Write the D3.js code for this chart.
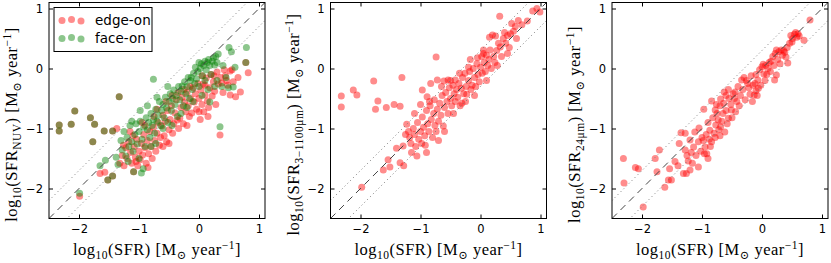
<!DOCTYPE html>
<html>
<head>
<meta charset="utf-8">
<script src="https://cdn.jsdelivr.net/npm/d3@7"></script>
<style>
  body { margin: 0; background: #fff; }
  svg { display: block; }
  .tick text { font-family: "DejaVu Sans", sans-serif; font-size: 11.5px; fill: #000; }
  .lab { font-family: "Liberation Serif", "DejaVu Serif", serif; font-size: 16.5px; letter-spacing: 0.5px; fill: #000; }
</style>
</head>
<body>
<div id="chart"></div>
<script>
// log10 SFR values, [x, y] per galaxy
const sfrNuvEdge = [
  [-2.33,-0.94],[-2.33,-1.04],[-2.13,-0.93],[-2.07,-0.71],[-1.81,-0.82],[-1.74,-0.93],[-1.77,-1.22],[-1.58,-1.04],[-1.44,-1.04],[-1.33,-0.47],
  [-1.99,-2.13],[-1.65,-1.75],[-1.57,-1.73],[-1.52,-1.86],[-1.44,-1.79],[-1.09,-1.72],[-1.37,-1.0],[-1.32,-1.58],[-1.28,-1.45],[-1.25,-1.62],
  [-1.22,-1.32],[-1.2,-1.5],[-1.17,-1.22],[-1.14,-1.4],[-1.12,-1.58],[-1.08,-1.3],[-1.06,-1.48],[-1.04,-1.18],[-1.02,-1.62],[-1.0,-1.38],
  [-0.98,-1.52],[-0.96,-1.25],[-0.94,-1.44],[-0.92,-1.1],[-0.9,-1.32],[-0.88,-1.58],[-0.86,-1.2],[-0.84,-1.42],[-0.82,-1.05],[-0.8,-1.3],
  [-0.78,-1.5],[-0.76,-0.98],[-0.74,-1.2],[-0.72,-1.38],[-0.7,-1.08],[-0.68,-0.9],[-0.66,-1.28],[-0.64,-1.15],[-0.62,-0.96],[-0.6,-0.78],
  [-0.58,-1.12],[-0.56,-0.88],[-0.54,-1.22],[-0.52,-0.7],[-0.5,-1.02],[-0.48,-0.85],[-0.46,-0.62],[-0.44,-1.08],[-0.42,-0.92],[-0.4,-0.74],
  [-0.38,-0.52],[-0.36,-0.86],[-0.34,-1.0],[-0.32,-0.83],[-0.3,-0.65],[-0.28,-0.48],[-0.26,-0.92],[-0.24,-0.56],[-0.22,-0.72],[-0.2,-0.4],
  [-0.18,-0.62],[-0.16,-0.8],[-0.14,-0.5],[-0.12,-0.74],[-0.1,-0.32],[-0.08,-0.56],[-0.06,-0.42],[-0.04,-0.68],[-0.02,-0.25],[0.0,-0.5],
  [0.02,-0.85],[0.03,-0.36],[0.05,-0.6],[0.07,-0.26],[0.08,-0.72],[0.1,-0.44],[0.12,-0.16],[0.14,-0.54],[0.16,-0.65],[0.18,-0.32],
  [0.2,-0.1],[0.22,-0.46],[0.24,-0.22],[0.26,-0.38],[0.28,-0.6],[0.3,-0.06],[0.32,-0.26],[0.35,-1.11],[0.36,-0.15],[0.4,-0.4],
  [0.44,-0.12],[0.48,-0.28],[0.52,-0.04],[0.52,-0.44],[0.57,-0.22],[0.61,-0.47],[0.69,-0.39],[0.82,-0.07],[0.78,0.10],[0.46,-0.2],
  [0.38,-0.24],[-0.7,-0.68],[-0.9,-0.95],[-1.1,-1.12],[-1.26,-1.28],[-0.55,-0.55],[-0.35,-0.4],[-0.15,-0.3],[0.05,-0.12],[-1.15,-1.05],
  [-0.95,-0.9],[-0.75,-0.8],[-0.45,-0.45],[-0.25,-0.35],[0.1,-0.28],[0.25,-0.12],[-0.6,-1.3],[-0.85,-1.65],[-1.05,-1.55],[-0.5,-1.25],
  [0.0,-0.72],[-0.2,-0.95],[0.15,-0.8],[0.65,-0.15],[0.55,-0.02],[0.42,-0.02]
];
const sfrNuvFace = [
  [-2.33,-0.94],[-2.33,-1.04],[-2.13,-0.93],[-2.07,-0.71],[-1.81,-0.82],[-1.74,-0.93],[-1.77,-1.22],[-1.58,-1.04],[-1.44,-1.04],[-1.33,-0.47],
  [-1.99,-2.08],[-1.65,-1.62],[-1.56,-1.53],[-1.52,-1.86],[-1.44,-1.79],[-1.09,-1.72],[-1.38,-1.48],[-1.3,-1.2],[-1.28,-1.36],[-1.25,-1.05],
  [-1.22,-1.46],[-1.2,-1.15],[-1.17,-1.3],[-1.15,-0.95],[-1.12,-1.22],[-1.1,-1.38],[-1.07,-1.1],[-1.05,-0.92],[-1.03,-1.26],[-1.0,-1.05],
  [-0.98,-0.88],[-0.96,-1.74],[-0.93,-1.67],[-0.95,-1.18],[-0.92,-0.98],[-0.9,-1.3],[-0.88,-0.82],[-0.86,-1.02],[-0.84,-0.9],[-0.82,-1.15],
  [-0.8,-0.75],[-0.78,-0.95],[-0.76,-0.18],[-0.76,-0.85],[-0.74,-1.08],[-0.72,-0.68],[-0.7,-0.88],[-0.68,-0.78],[-0.66,-0.55],[-0.64,-0.95],
  [-0.62,-0.7],[-0.6,-0.6],[-0.58,-0.82],[-0.56,-0.48],[-0.54,-0.66],[-0.52,-0.9],[-0.5,-0.55],[-0.48,-0.42],[-0.46,-0.7],[-0.44,-0.5],
  [-0.42,-0.36],[-0.4,-0.6],[-0.38,-0.45],[-0.36,-0.8],[-0.34,-0.3],[-0.32,-0.52],[-0.3,-0.38],[-0.28,-0.29],[-0.26,-0.62],[-0.24,-0.22],
  [-0.22,-0.42],[-0.2,-0.3],[-0.18,-0.15],[-0.16,-0.5],[-0.14,-0.2],[-0.13,-0.15],[-0.11,-0.35],[-0.09,-0.08],[-0.07,-0.25],[-0.04,-0.17],
  [-0.02,-0.05],[0.0,-0.3],[0.02,0.0],[0.04,0.08],[0.06,-0.12],[0.08,0.05],[0.1,0.12],[0.12,-0.02],[0.14,0.1],[0.16,0.15],
  [0.18,0.05],[0.2,-0.1],[0.18,-0.56],[0.22,0.12],[0.24,0.18],[0.26,0.06],[0.28,0.2],[0.3,0.1],[0.32,0.24],[0.35,-0.97],
  [0.38,-0.3],[0.4,0.05],[0.49,-0.32],[0.5,0.35],[0.54,0.28],[0.57,-0.31],[0.6,0.02],[0.79,0.35],[0.78,0.10],[0.45,-0.15],
  [0.3,-0.2],[-0.6,-1.0],[-0.8,-1.3],[-1.0,-1.5],[-0.45,-0.95],[-1.35,-1.6],[-1.18,-1.55],[-0.72,-1.25],[-0.3,-0.75],[-0.1,-0.55],
  [0.15,-0.35],[0.05,-0.45],[-0.2,-0.65],[-1.12,-0.88],[-0.98,-0.7],[-0.86,-0.62],[-0.7,-0.48],[-0.52,-0.3],[0.0,0.1],[-0.06,0.02],
  [0.26,-0.3],[0.1,-0.2]
];
const sfrTirEdge = [
  [-2.32,-0.46],[-2.32,-0.64],[-2.12,-0.36],[-2.06,-0.44],[-1.78,-0.21],[-1.71,-0.54],[-1.75,-0.68],[-1.57,-0.65],[-1.44,-0.6],[-1.34,-0.63],
  [-1.31,-0.15],[-0.74,0.19],[-0.17,0.15],[-1.98,-1.98],[-1.62,-1.69],[-1.51,-1.64],[-1.54,-1.52],[-1.34,-1.57],[-1.28,-1.62],[-1.4,-1.33],
  [-1.29,-1.29],[-1.06,-1.46],[-1.23,-0.93],[-1.2,-1.05],[-1.18,-1.15],[-1.16,-1.25],[-1.12,-1.0],[-1.1,-1.1],[-1.08,-1.3],[-1.05,-0.9],
  [-1.03,-1.18],[-1.0,-1.05],[-0.98,-1.25],[-0.97,-0.81],[-0.97,-0.36],[-0.95,-0.98],[-0.93,-1.12],[-0.92,-1.28],[-0.9,-0.7],[-0.89,-0.47],
  [-0.88,-0.92],[-0.86,-1.05],[-0.84,-0.62],[-0.83,-0.25],[-0.82,-0.85],[-0.8,-1.15],[-0.78,-0.75],[-0.77,-0.52],[-0.76,-0.95],[-0.74,-1.05],
  [-0.72,-0.19],[-0.72,-0.68],[-0.7,-0.88],[-0.68,-0.58],[-0.66,-0.78],[-0.64,-0.45],[-0.62,-0.96],[-0.61,-0.21],[-0.6,-0.65],[-0.58,-0.4],
  [-0.56,-0.55],[-0.54,-0.19],[-0.54,-0.75],[-0.52,-0.32],[-0.5,-0.5],[-0.48,-0.62],[-0.46,-0.28],[-0.44,-0.42],[-0.42,-0.19],[-0.42,-0.55],
  [-0.4,-0.35],[-0.38,-0.48],[-0.36,-0.25],[-0.34,-0.62],[-0.32,-0.33],[-0.31,-0.58],[-0.3,-0.15],[-0.28,-0.42],[-0.26,-0.08],[-0.24,-0.3],
  [-0.23,-0.43],[-0.2,-0.2],[-0.18,-0.05],[-0.16,-0.35],[-0.14,-0.28],[-0.12,0.0],[-0.1,-0.15],[-0.08,-0.3],[-0.06,0.08],[-0.04,-0.1],
  [-0.02,-0.22],[0.0,0.02],[0.02,0.2],[0.03,-0.08],[0.05,0.31],[0.06,0.1],[0.08,-0.05],[0.1,0.22],[0.12,0.05],[0.14,0.15],
  [0.16,0.31],[0.18,0.0],[0.2,0.56],[0.22,0.2],[0.24,0.1],[0.25,0.54],[0.27,0.3],[0.3,0.42],[0.32,0.87],[0.33,0.36],
  [0.35,0.2],[0.38,0.5],[0.4,0.6],[0.42,0.42],[0.45,0.55],[0.48,0.35],[0.5,0.58],[0.52,0.75],[0.55,0.62],[0.58,0.7],
  [0.6,0.5],[0.63,0.8],[0.69,0.73],[0.78,0.79],[0.87,0.96],[0.94,1.0],[0.99,0.94],[0.15,0.52],[0.05,0.25],[-0.05,0.18],
  [-0.2,0.02],[-0.35,-0.08],[-0.5,-0.2],[-0.65,-0.3],[-0.85,-0.55],[-1.0,-0.6],[-1.1,-0.75],[-0.6,-1.05],[-0.45,-0.75],[-0.25,-0.55],
  [-0.1,-0.45],[0.1,-0.2],[0.28,0.05],[0.45,0.25],[-1.25,-1.1],[-1.15,-1.4],[-0.9,-1.4],[-0.7,-1.2]
];
const sfr24Edge = [
  [-2.31,-1.5],[-2.3,-1.91],[-2.11,-1.65],[-2.06,-1.67],[-1.98,-2.31],[-1.78,-1.5],[-1.75,-1.72],[-1.71,-1.36],[-1.62,-1.98],[-1.56,-1.86],
  [-1.51,-1.86],[-1.54,-1.67],[-1.35,-1.07],[-1.28,-1.08],[-1.31,-1.75],[-1.26,-1.75],[-1.2,-1.69],[-1.23,-1.54],[-1.06,-1.64],[-1.05,-0.99],
  [-0.97,-0.68],[-0.84,-0.54],[-0.69,-0.51],[-0.78,-0.69],[-0.63,-0.39],[-0.56,-0.35],[-0.45,-0.39],[-0.46,-0.5],[-0.34,-0.19],[-0.3,-0.15],
  [-0.24,-0.25],[-0.2,-0.43],[-0.12,-0.25],[-0.07,-0.19],[-0.06,-0.33],[-0.1,-0.37],[-0.13,-0.44],[0.02,0.07],[0.03,-0.09],[0.1,0.0],
  [0.15,0.12],[0.24,0.31],[0.32,0.31],[0.38,0.27],[0.4,0.19],[0.43,0.09],[0.51,0.5],[0.54,0.57],[0.6,0.58],[0.62,0.54],
  [0.5,0.44],[0.7,0.47],[0.8,0.81],[0.21,-0.19],[0.24,-0.11],[-1.12,-1.06],[-1.2,-1.19],[-1.14,-1.31],[-1.06,-1.22],[-1.0,-1.15],
  [-0.95,-1.31],[-0.92,-1.42],[-0.9,-1.5],[-0.87,-1.03],[-0.8,-1.08],[-0.77,-0.94],[-0.73,-0.86],[-0.69,-0.97],[-0.65,-0.75],[-0.62,-1.06],
  [-0.56,-0.83],[-0.51,-0.69],[-0.44,-0.72],[-0.84,-1.22],[-1.28,-1.36],[-1.25,-1.45],[-1.18,-1.4],[-1.1,-1.45],[-1.02,-1.38],[-0.98,-1.2],
  [-0.93,-1.1],[-0.9,-0.9],[-0.86,-1.3],[-0.82,-0.82],[-0.78,-1.15],[-0.75,-0.75],[-0.72,-1.02],[-0.7,-0.62],[-0.67,-0.88],[-0.64,-0.58],
  [-0.6,-0.7],[-0.58,-0.92],[-0.55,-0.5],[-0.52,-0.6],[-0.5,-0.82],[-0.48,-0.42],[-0.42,-0.55],[-0.4,-0.3],[-0.38,-0.62],[-0.36,-0.45],
  [-0.32,-0.35],[-0.28,-0.52],[-0.26,-0.2],[-0.22,-0.32],[-0.18,-0.12],[-0.16,-0.55],[-0.15,-0.28],[-0.1,-0.1],[-0.08,-0.45],[-0.04,-0.02],
  [-0.02,-0.28],[0.0,0.03],[0.05,-0.2],[0.06,0.05],[0.08,-0.1],[0.12,0.1],[0.14,-0.05],[0.18,0.2],[0.2,0.05],[0.22,0.25],
  [0.26,0.15],[0.28,0.28],[0.3,0.08],[0.34,0.22],[0.36,0.3],[0.42,0.35],[0.46,0.42],[0.56,0.6],[0.58,0.52],[0.48,0.55],
  [-1.38,-1.25],[-1.45,-1.55],[-1.4,-1.62],[-1.16,-1.58],[-0.96,-1.42],[-0.88,-1.18],[-0.76,-0.6],[-0.6,-0.45],[-0.7,-1.12]
];

const axisDomain = [-2.5, 1.1];
const tickValues = [-2, -1, 0, 1];
const lineOffsets = [0, 0.3, -0.3];   // 1:1 line and +/-0.3 dex
const seriesNames = ['edge-on', 'face-on'];
const seriesColors = ['#ff0000', '#008000'];
const yLabelSubs = ['NUV', '3\u22121100\u03bcm', '24\u03bcm'];

const width = 831;
const height = 263;
const size = 216;
const marginTop = 2.5;
const lefts = [49, 330.5, 612];

const svg = d3.select('#chart').append('svg')
  .attr('width', width)
  .attr('height', height);

const x = d3.scaleLinear().domain(axisDomain).range([0, size]);
const y = d3.scaleLinear().domain(axisDomain).range([size, 0]);
const fmt = d => d3.format('')(d).replace('-', '\u2212');

const panels = [
  { sets: [[sfrNuvEdge, 0], [sfrNuvFace, 1]], legend: true },
  { sets: [[sfrTirEdge, 0]] },
  { sets: [[sfr24Edge, 0]] }
];

// label with sub/superscripts: parts = [text, shift] (shift: 0 normal, 1 sub, -1 sup)
function mathLabel(sel, parts) {
  let prev = 0;
  parts.forEach(([t, s]) => {
    const dy = (s - prev) * (s === -1 || prev === -1 ? 6 : 4);
    sel.append('tspan')
      .attr('dy', dy)
      .attr('font-size', s === 0 ? null : '11.5px')
      .text(t);
    prev = s;
  });
}

panels.forEach((p, i) => {
  const g = svg.append('g').attr('transform', `translate(${lefts[i]},${marginTop})`);
  const clipId = 'clip' + i;
  g.append('clipPath').attr('id', clipId)
    .append('rect').attr('width', size).attr('height', size);

  const plot = g.append('g').attr('clip-path', `url(#${clipId})`);

  // points
  p.sets.forEach(([pts, s]) => {
    plot.selectAll('.pt' + s)
      .data(pts)
      .enter().append('circle')
      .attr('class', 'pt' + s)
      .attr('cx', d => x(d[0]))
      .attr('cy', d => y(d[1]))
      .attr('r', 3.5)
      .style('fill', seriesColors[s])
      .style('fill-opacity', 0.45);
  });

  // reference lines
  lineOffsets.forEach(off => {
    plot.append('line')
      .attr('x1', x(axisDomain[0])).attr('y1', y(axisDomain[0] + off))
      .attr('x2', x(axisDomain[1])).attr('y2', y(axisDomain[1] + off))
      .style('stroke', off === 0 ? '#444' : '#777')
      .style('stroke-width', 1)
      .style('stroke-dasharray', off === 0 ? '7,5' : '1,3');
  });

  // axes with inward ticks
  g.append('g').attr('transform', `translate(0,${size})`)
    .call(d3.axisBottom(x).tickValues(tickValues).tickSize(-4).tickPadding(6).tickFormat(fmt));
  g.append('g')
    .call(d3.axisLeft(y).tickValues(tickValues).tickSize(-4).tickPadding(6).tickFormat(fmt));
  g.append('g')
    .call(d3.axisTop(x).tickValues(tickValues).tickSize(-4).tickFormat(''));
  g.append('g').attr('transform', `translate(${size},0)`)
    .call(d3.axisRight(y).tickValues(tickValues).tickSize(-4).tickFormat(''));
  g.selectAll('.domain').remove();
  g.append('rect').attr('width', size).attr('height', size)
    .style('fill', 'none').style('stroke', '#000').style('stroke-width', 1);

  // x label
  const xl = g.append('text').attr('class', 'lab')
    .attr('x', size / 2).attr('y', 252.5).attr('text-anchor', 'middle');
  mathLabel(xl, [['log', 0], ['10', 1], ['(SFR)  [M', 0], ['\u2299', 1], [' year', 0], ['\u22121', -1], [']', 0]]);

  // y label
  const yl = g.append('text').attr('class', 'lab')
    .attr('transform', `translate(-32,${size / 2 + 14}) rotate(-90)`)
    .attr('text-anchor', 'middle');
  mathLabel(yl, [['log', 0], ['10', 1], ['(SFR', 0], [yLabelSubs[i], 1], [')  [M', 0], ['\u2299', 1], [' year', 0], ['\u22121', -1], [']', 0]]);

  // legend
  if (p.legend) {
    const lg = g.append('g').attr('transform', 'translate(5,5)');
    lg.append('rect').attr('width', 98).attr('height', 44)
      .style('fill', '#fff').style('stroke', '#000').style('stroke-width', 1);
    const jitter = [0.5, -0.6, 1];
    seriesNames.forEach((name, k) => {
      const row = lg.append('g').attr('transform', `translate(0,${12.5 + k * 18})`);
      jitter.forEach((jy, m) => {
        row.append('circle')
          .attr('cx', 8 + m * 9.5).attr('cy', jy).attr('r', 3.5)
          .style('fill', seriesColors[k]).style('fill-opacity', 0.45);
      });
      row.append('text').attr('x', 41).attr('y', 5)
        .style('font-family', '"DejaVu Sans", sans-serif').style('font-size', '13.5px')
        .text(name);
    });
  }
});
</script>
</body>
</html>
